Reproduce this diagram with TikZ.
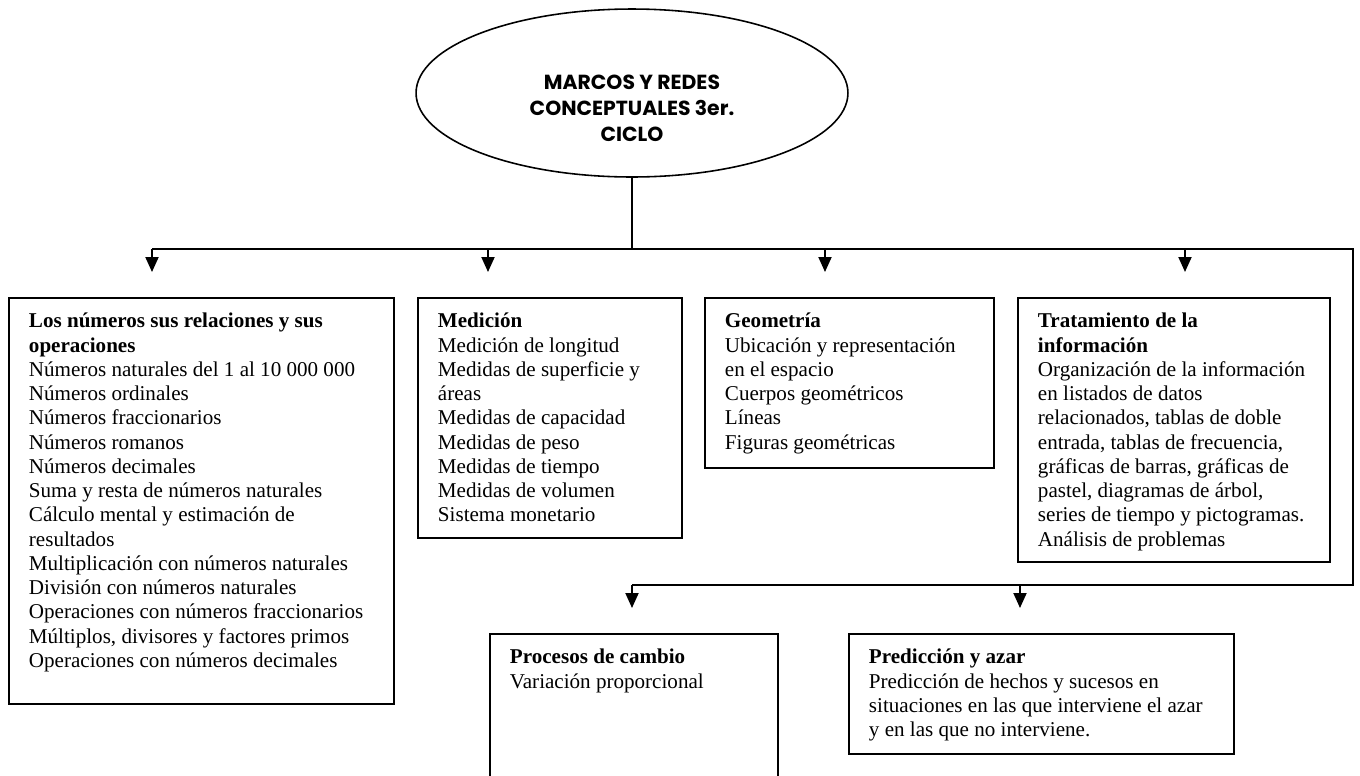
\documentclass[tikz,border=0pt]{standalone}
\usepackage{fontspec}
\setmainfont{Liberation Serif}
\setsansfont{Poppins}
\usetikzlibrary{shapes.geometric,arrows.meta}
\newlength\px
\setlength\px{0.02cm}
\newcommand\boxtxt[3]{\parbox[t][#2\px][t]{#1\px}{\raggedright\rule{0pt}{30\px}#3}}

\begin{document}
\begin{tikzpicture}[x=0.02cm, y=-0.02cm, >={Triangle[length=0.3cm,width=0.26cm]}]
  \tikzstyle{topic} = [rectangle, draw, line width=1.1pt, inner xsep=0.4cm, inner ysep=0pt,
                       anchor=north west, font=\fontsize{12}{13.8}\selectfont]
  \tikzstyle{link} = [line width=1.1pt]
\useasboundingbox (0,0) rectangle (1360,775);

\node[ellipse, draw, line width=0.9pt, minimum width=8.64cm, minimum height=3.36cm, inner sep=0pt,
      label={[yshift=-0.3cm, align=center, font=\sffamily\bfseries\fontsize{11.6}{14.8}\selectfont]center:MARCOS Y REDES\\CONCEPTUALES 3er.\\CICLO}] (root) at (632,93) {};

\node[topic] (num) at (8,297) {\boxtxt{345}{406}{\textbf{Los números sus relaciones y sus}\\
  \textbf{operaciones}\\
  Números naturales del 1 al 10 000 000\\
  Números ordinales\\
  Números fraccionarios\\
  Números romanos\\
  Números decimales\\
  Suma y resta de números naturales\\
  Cálculo mental y estimación de\\
  resultados\\
  Multiplicación con números naturales\\
  División con números naturales\\
  Operaciones con números fraccionarios\\
  Múltiplos, divisores y factores primos\\
  Operaciones con números decimales}};
\node[topic] (med) at (417,297) {\boxtxt{224}{240}{\textbf{Medición}\\
  Medición de longitud\\
  Medidas de superficie y\\
  áreas\\
  Medidas de capacidad\\
  Medidas de peso\\
  Medidas de tiempo\\
  Medidas de volumen\\
  Sistema monetario}};
\node[topic] (geo) at (704,297) {\boxtxt{249}{170}{\textbf{Geometría}\\
  Ubicación y representación\\
  en el espacio\\
  Cuerpos geométricos\\
  Líneas\\
  Figuras geométricas}};
\node[topic] (info) at (1017,297) {\boxtxt{272}{264}{\textbf{Tratamiento de la}\\
  \textbf{información}\\
  Organización de la información\\
  en listados de datos\\
  relacionados, tablas de doble\\
  entrada, tablas de frecuencia,\\
  gráficas de barras, gráficas de\\
  pastel, diagramas de árbol,\\
  series de tiempo y pictogramas.\\
  Análisis de problemas}};
\node[topic] (cambio) at (489,633) {\boxtxt{248}{180}{\textbf{Procesos de cambio}\\
  Variación proporcional}};
\node[topic] (azar) at (848,633) {\boxtxt{345}{120}{\textbf{Predicción y azar}\\
  Predicción de hechos y sucesos en\\
  situaciones en las que interviene el azar\\
  y en las que no interviene.}};

% bus lines
\coordinate (bus) at (632,249);
\coordinate (busA) at (152,249);
\coordinate (busB) at (488,249);
\coordinate (busC) at (825,249);
\coordinate (busD) at (1185,249);
\coordinate (busE) at (1353,249);
\coordinate (low) at (1353,585);
\coordinate (lowA) at (632,585);
\coordinate (lowB) at (1020,585);

\draw[link] (root.south) -- (bus);
\draw[link] (busA) -- (busE) -- (low) -- (lowA);
\draw[link,->,shorten >=0.5cm] (busA) -- (busA |- num.north);
\draw[link,->,shorten >=0.5cm] (busB) -- (busB |- med.north);
\draw[link,->,shorten >=0.5cm] (busC) -- (busC |- geo.north);
\draw[link,->,shorten >=0.5cm] (busD) -- (busD |- info.north);
\draw[link,->,shorten >=0.5cm] (lowA) -- (lowA |- cambio.north);
\draw[link,->,shorten >=0.5cm] (lowB) -- (lowB |- azar.north);
\end{tikzpicture}
\end{document}
